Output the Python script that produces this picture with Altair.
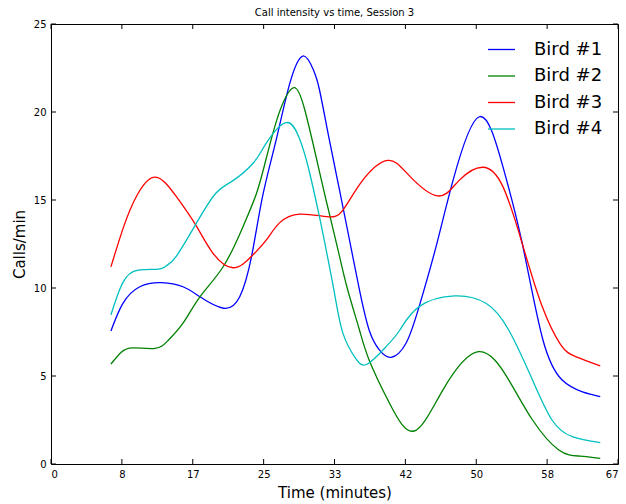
import json
import altair as alt
import pandas as pd

# ---- data ----
birds = ["Bird #1", "Bird #2", "Bird #3", "Bird #4"]
colors = ["#0000ff", "#008000", "#ff0000", "#00bfbf"]

t1 = [7.08, 8.5, 10.5, 13.06, 15.6, 17.6, 20.4, 22.3, 23.7, 25.0, 26.6, 28.2, 29.76,
      31.0, 31.73, 32.9, 34.09, 35.27, 36.45, 37.6, 38.8, 40.2, 41.95, 43.5, 45.5, 47.5,
      50.6, 53.4, 55.7, 58.1, 60.4, 62.8, 64.9]
b1 = [7.56, 9.13, 10.07, 10.3, 10.07, 9.5, 8.85, 9.5, 11.8, 15.2, 18.4, 21.6, 23.18,
      22.4, 21.25, 18.4, 15.57, 12.73, 9.89, 7.6, 6.48, 6.06, 6.86, 8.94, 12.35, 16.1,
      19.73, 16.9, 12.5, 7.1, 4.77, 4.1, 3.83]

t2 = [7.08, 8.3, 9.7, 12.3, 13.8, 15.6, 17.6, 20.4, 22.7, 24.3, 25.4, 26.4, 27.4,
      28.78, 30.0, 31.3, 32.5, 33.9, 35.0, 36.4, 37.6, 40.0, 42.9, 46.3, 50.5, 54.1,
      56.9, 60.0, 62.5, 64.9]
b2 = [5.68, 6.35, 6.6, 6.57, 7.0, 8.0, 9.5, 11.25, 13.5, 15.4, 17.3, 19.1, 20.5,
      21.38, 20.1, 17.5, 15.0, 12.2, 10.0, 7.7, 5.9, 3.45, 1.875, 4.2, 6.38, 4.77,
      2.5, 0.8, 0.45, 0.32]

t3 = [7.08, 8.6, 10.2, 12.35, 14.8, 17.2, 19.1, 21.5, 23.7, 25.4, 27.0, 29.4, 32.6,
      34.5, 36.8, 39.8, 42.3, 45.7, 48.2, 51.0, 53.4, 55.7, 58.0, 60.2, 62.0, 64.9]
b3 = [11.2, 13.5, 15.3, 16.3, 15.2, 13.5, 12.0, 11.15, 11.8, 12.7, 13.7, 14.2, 14.05,
      14.43, 16.1, 17.25, 16.4, 15.23, 16.1, 16.86, 15.76, 12.5, 9.0, 6.8, 6.1, 5.57]

t4 = [7.08, 8.1, 9.7, 12.5, 13.6, 14.8, 17.2, 19.5, 21.5, 23.9, 25.4, 27.8, 29.4,
      30.4, 31.7, 32.5, 33.5, 34.5, 36.0, 37.4, 39.6, 41.2, 43.5, 47.7, 51.4, 54.1,
      56.9, 59.2, 61.6, 64.9]
b4 = [8.47, 9.9, 10.93, 11.06, 11.25, 11.8, 13.7, 15.4, 16.1, 17.1, 18.2, 19.4, 18.44,
      16.86, 14.1, 12.2, 9.7, 7.42, 6.0, 5.68, 6.67, 7.6, 8.94, 9.55, 9.13, 7.6,
      4.77, 2.5, 1.55, 1.21]

xticks = [67 * i / 8 for i in range(9)]
xtick_labels = ["0", "8", "17", "25", "33", "42", "50", "58", "67"]
yticks = [0, 5, 10, 15, 20, 25]

# ---- build table ----
rows = []
for name, ts, vs in zip(birds, [t1, t2, t3, t4], [b1, b2, b3, b4]):
    for t, v in zip(ts, vs):
        rows.append({"bird": name, "t": t, "v": v})
df = pd.DataFrame(rows)

W, H = 567, 440
FONT = "DejaVu Sans"
xscale = alt.Scale(domain=[0, 67], nice=False, zero=False)
yscale = alt.Scale(domain=[0, 25], nice=False, zero=False)

label_expr = f"{json.dumps(xtick_labels)}[round(datum.value*8/67)]"
xaxis = alt.Axis(title="Time (minutes)", values=xticks, labelExpr=label_expr,
                 labelPadding=5, titlePadding=6)
yaxis = alt.Axis(title="Calls/min", values=yticks, labelPadding=5, titlePadding=6)

lines = alt.Chart(df).mark_line(strokeWidth=1.3, interpolate="natural").encode(
    x=alt.X("t:Q", scale=xscale, axis=xaxis),
    y=alt.Y("v:Q", scale=yscale, axis=yaxis),
    color=alt.Color("bird:N", scale=alt.Scale(domain=birds, range=colors),
                    legend=alt.Legend(title=None, orient="none", legendX=436, legendY=11,
                                      symbolType="stroke", symbolSize=729,
                                      symbolStrokeWidth=1.3, labelFontSize=18,
                                      labelFont=FONT, labelColor="black",
                                      labelOffset=18, padding=0, rowPadding=2.5)),
    order=alt.Order("t:Q"),
)

xt = pd.DataFrame({"t": xticks})
yt = pd.DataFrame({"v": yticks})
tick_style = dict(color="black", strokeWidth=1)
xtop = alt.Chart(xt).mark_rule(**tick_style).encode(
    x=alt.X("t:Q", scale=xscale, axis=xaxis), y=alt.value(0), y2=alt.value(5))
xbot = alt.Chart(xt).mark_rule(**tick_style).encode(
    x=alt.X("t:Q", scale=xscale, axis=xaxis), y=alt.value(H), y2=alt.value(H - 5))
yleft = alt.Chart(yt).mark_rule(**tick_style).encode(
    y=alt.Y("v:Q", scale=yscale, axis=yaxis), x=alt.value(0), x2=alt.value(5))
yright = alt.Chart(yt).mark_rule(**tick_style).encode(
    y=alt.Y("v:Q", scale=yscale, axis=yaxis), x=alt.value(W), x2=alt.value(W - 5))

chart = alt.layer(lines, xtop, xbot, yleft, yright).properties(
    width=W, height=H,
    title=alt.TitleParams("Call intensity vs time, Session 3", fontSize=10, font=FONT,
                          fontWeight="normal", anchor="middle", offset=1, color="black"),
    autosize=alt.AutoSizeParams(type="none"),
    padding={"left": 51, "top": 24, "right": 8, "bottom": 40},
).configure_view(stroke="black", strokeWidth=1).configure_axis(
    domain=False, ticks=False, grid=False, labelFont=FONT, labelFontSize=10,
    labelColor="black", titleFont=FONT, titleFontSize=15, titleFontWeight="normal",
    titleColor="black",
)

chart.save("out.html", embed_options={"renderer": "svg", "actions": False})
